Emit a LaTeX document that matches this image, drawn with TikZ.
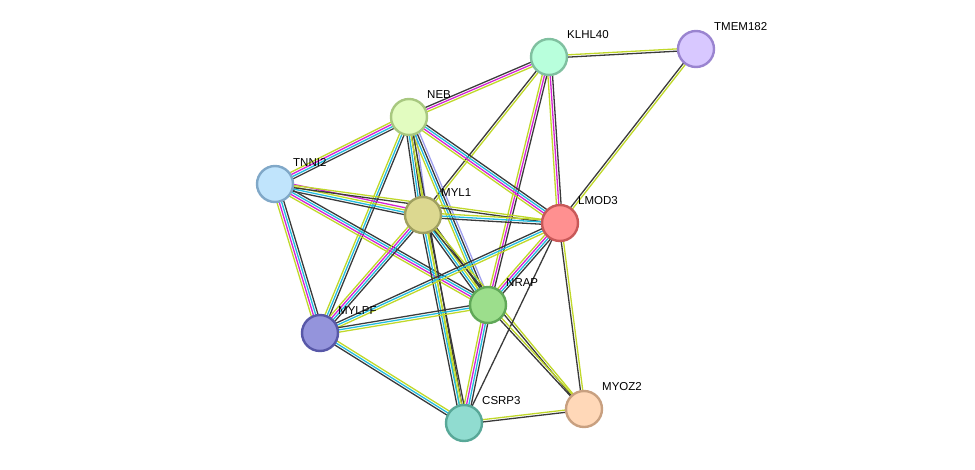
\documentclass[tikz,border=0pt]{standalone}
\usepackage{fontspec}
\setmainfont{Liberation Sans}
\usetikzlibrary{calc,backgrounds}
\definecolor{colK}{HTML}{3A3A3A}
\definecolor{colY}{HTML}{C0D82A}
\definecolor{colM}{HTML}{D424D4}
\definecolor{colC}{HTML}{22BCE0}
\definecolor{colB}{HTML}{A0A0F0}
\tikzset{
 ek/.style={draw=colK,line width=1.3pt}, ey/.style={draw=colY,line width=1.3pt},
 em/.style={draw=colM,line width=1.3pt}, ec/.style={draw=colC,line width=1.3pt},
 eb/.style={draw=colB,line width=1.3pt},
 prot/.style={circle,minimum size=36pt,inner sep=0pt,line width=2.4pt},
 lab/.style={anchor=west,font=\fontsize{11.5pt}{13pt}\selectfont,text=black,inner sep=0pt}
}
\newcommand\edge[4]{\foreach \cl [count=\i] in {#4}{%
 \pgfmathsetmacro\o{(\i-(#3+1)/2)*2.3}%
 \draw[e\cl] ($(#1.center)!\o pt!90:(#2.center)$) -- ($(#2.center)!\o pt!-90:(#1.center)$);}}
\begin{document}
\begin{tikzpicture}[x=1pt,y=-1pt]
\useasboundingbox (0,0) rectangle (975,469);
\newcommand\Prot[6]{\definecolor{fill#1}{HTML}{#4}\definecolor{bord#1}{HTML}{#5}%
 \node[prot,fill=fill#1,draw=bord#1] (#1) at (#2,#3) {};
 \node[lab] (#1-l) at (#2+18,#3-22) {#6};}
\Prot{KLHL40}{549}{57}{B8FFDC}{80C0A0}{KLHL40}
\Prot{TMEM182}{696}{49}{D8C8FF}{9A84D0}{TMEM182}
\Prot{NEB}{409}{117}{E2FCC0}{A8C880}{NEB}
\Prot{TNNI2}{275}{184}{C0E4FC}{80A8C8}{TNNI2}
\Prot{MYL1}{423}{215}{DCD890}{A0A060}{MYL1}
\Prot{LMOD3}{560}{223}{FF9090}{C85858}{LMOD3}
\Prot{NRAP}{488}{305}{9CDE8C}{60A858}{NRAP}
\Prot{MYLPF}{320}{333}{9494DC}{5858A8}{MYLPF}
\Prot{CSRP3}{464}{423}{90DCD0}{58A898}{CSRP3}
\Prot{MYOZ2}{584}{409}{FFD8B8}{C8A080}{MYOZ2}
\begin{scope}[on background layer]
\edge{NEB}{KLHL40}{3}{y,m,k}
\edge{KLHL40}{TMEM182}{2}{k,y}
\edge{TMEM182}{LMOD3}{2}{k,y}
\edge{KLHL40}{LMOD3}{3}{y,m,k}
\edge{KLHL40}{NRAP}{3}{y,m,k}
\edge{KLHL40}{MYL1}{2}{k,y}
\edge{NEB}{TNNI2}{4}{y,m,c,k}
\edge{NEB}{MYL1}{5}{k,c,k,y,b}
\edge{NEB}{LMOD3}{4}{y,m,c,k}
\edge{NEB}{NRAP}{4}{y,c,k,b}
\edge{NEB}{MYLPF}{3}{y,c,k}
\edge{NEB}{CSRP3}{2}{y,k}
\edge{TNNI2}{MYL1}{4}{k,c,y,m}
\edge{TNNI2}{LMOD3}{2}{k,y}
\edge{TNNI2}{NRAP}{4}{y,m,c,k}
\edge{TNNI2}{MYLPF}{4}{y,m,c,k}
\edge{MYL1}{LMOD3}{3}{k,c,y}
\edge{MYL1}{NRAP}{4}{k,c,y,k}
\edge{MYL1}{MYLPF}{4}{y,m,c,k}
\edge{MYL1}{CSRP3}{4}{k,c,y,k}
\edge{MYL1}{MYOZ2}{2}{k,y}
\edge{LMOD3}{NRAP}{4}{y,m,c,k}
\edge{LMOD3}{MYLPF}{3}{k,c,y}
\edge{LMOD3}{CSRP3}{1}{k}
\edge{LMOD3}{MYOZ2}{2}{k,y}
\edge{NRAP}{MYLPF}{3}{k,c,y}
\edge{NRAP}{CSRP3}{4}{y,m,c,k}
\edge{NRAP}{MYOZ2}{2}{k,y}
\edge{MYLPF}{CSRP3}{3}{k,c,y}
\edge{CSRP3}{MYOZ2}{2}{k,y}
\end{scope}
\end{tikzpicture}
\end{document}
